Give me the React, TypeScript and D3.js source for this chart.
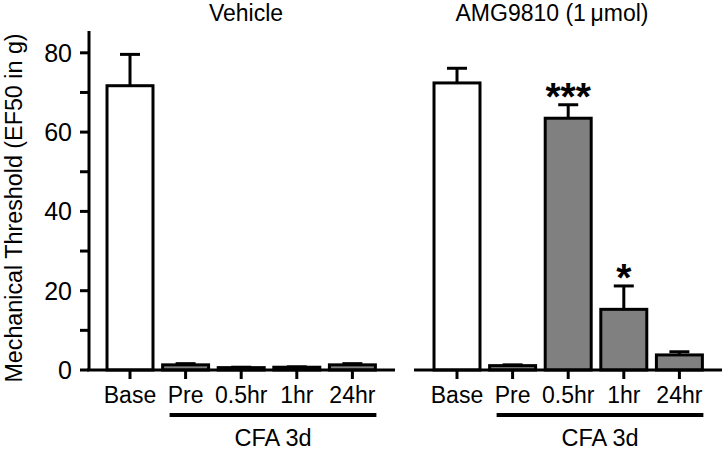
import React from 'react'
import * as d3 from 'd3'

const categories = ['Base', 'Pre', '0.5hr', '1hr', '24hr']
const vehicleMean = [71.7, 1.3, 0.6, 0.7, 1.3]
const vehicleErr = [7.9, 0.3, 0.1, 0.1, 0.3]
const amgMean = [72.4, 1.1, 63.5, 15.3, 3.8]
const amgErr = [3.7, 0.2, 3.4, 5.9, 0.8]
const amgStars = ['', '', '***', '*', '']
const yTicks = [0, 20, 40, 60, 80]
const yMinorTicks = d3.range(0, 81, 10)

const FONT = 'Arial, "Liberation Sans", Helvetica, sans-serif'
const width = 728, height = 453

const y = d3.scaleLinear([0, 85.5], [370, 31])

type PanelProps = {
    x0: number,
    title: string,
    titleX: number,
    means: number[],
    errs: number[],
    stars?: string[],
    axis?: boolean
}

const Panel = ({ x0, title, titleX, means, errs, stars, axis }: PanelProps) => {
    const x = d3.scaleBand(categories, [x0, x0 + 304.4])
        .paddingInner(0.119)
        .paddingOuter(0.297)
    const bw = x.bandwidth()
    const c = (k: string) => x(k)! + bw / 2
    const lineL = c('Pre') - 16
    const lineR = c('24hr') + 24
    return <g>
        <text x={titleX} y={21} textAnchor="middle" fontSize={23} fontFamily={FONT}>{title}</text>

        {/* bars */}
        {categories.map((k, i) => <g key={k}>
            <line x1={c(k)} x2={c(k)} y1={y(means[i])} y2={y(means[i] + errs[i])} stroke="#000" strokeWidth={3} />
            <line x1={c(k) - 10} x2={c(k) + 10} y1={y(means[i] + errs[i])} y2={y(means[i] + errs[i])} stroke="#000" strokeWidth={3} />
            <rect x={x(k)! + 1.5} y={y(means[i])} width={bw - 3} height={y(0) - y(means[i])}
                fill={i === 0 ? '#fff' : '#808080'} stroke="#000" strokeWidth={3} />
            {stars && stars[i] && <text x={c(k)} y={y(means[i] + errs[i]) + 5} textAnchor="middle"
                fontSize={39} fontWeight="bold" fontFamily={FONT}>{stars[i]}</text>}
        </g>)}

        {/* x axis */}
        <line x1={x0 - 2} x2={x0 + 306} y1={y(0)} y2={y(0)} stroke="#000" strokeWidth={3} />
        {categories.map(k => <g key={k}>
            <line x1={c(k)} x2={c(k)} y1={y(0)} y2={y(0) + 9} stroke="#000" strokeWidth={3} />
            <text x={c(k)} y={403} textAnchor="middle" fontSize={23} fontFamily={FONT}>{k}</text>
        </g>)}

        <line x1={lineL} x2={lineR} y1={415} y2={415} stroke="#000" strokeWidth={4} />
        <text x={(lineL + lineR) / 2} y={446} textAnchor="middle" fontSize={23.5} fontFamily={FONT}>CFA 3d</text>

        {/* y axis */}
        {axis && <g>
            <line x1={x0} x2={x0} y1={y(85.5)} y2={y(0)} stroke="#000" strokeWidth={3} />
            {yMinorTicks.map(t => <line key={t} x1={x0 - 9} x2={x0} y1={y(t)} y2={y(t)} stroke="#000" strokeWidth={3} />)}
            {yTicks.map(t => <text key={t} x={x0 - 17} y={y(t)} dy="0.36em" textAnchor="end" fontSize={25} fontFamily={FONT}>{t}</text>)}
        </g>}
    </g>
}

export default function App() {
    return <svg width={width} height={height} style={{ position: 'absolute', left: 0, top: 0, background: '#fff' }}>
        <rect width={width} height={height} fill="#fff" />
        <text transform="translate(22,208) rotate(-90)" textAnchor="middle" fontSize={23.3} fontFamily={FONT}>
            Mechanical Threshold (EF50 in g)
        </text>
        <Panel x0={89} title="Vehicle" titleX={246} means={vehicleMean} errs={vehicleErr} axis />
        <Panel x0={416} title={'AMG9810 (1\u2009\u03bcmol)'} titleX={552} means={amgMean} errs={amgErr} stars={amgStars} />
    </svg>
}
